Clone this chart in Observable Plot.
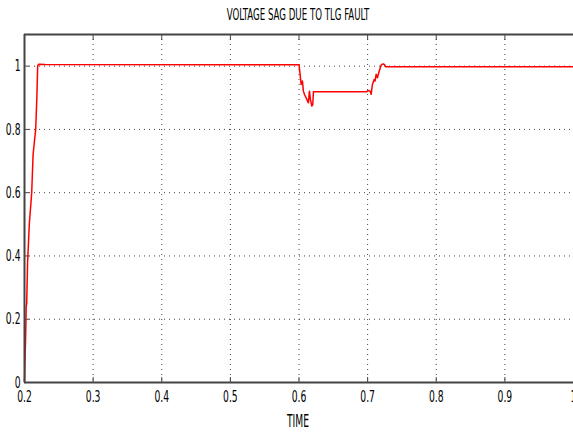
<!DOCTYPE html>
<html>
<head>
<meta charset="utf-8">
<script src="https://cdn.jsdelivr.net/npm/d3@7"></script>
<script src="https://cdn.jsdelivr.net/npm/@observablehq/plot@0.6"></script>
<style>
  html, body { margin: 0; padding: 0; background: #fff; overflow: hidden; }
  #wrap { position: relative; width: 573px; height: 432px; font-family: "DejaVu Sans Condensed", "DejaVu Sans", sans-serif; }
  .lbl { position: absolute; white-space: nowrap; color: #000; transform: translateX(-50%) scaleX(0.6); transform-origin: center; }
  #title { left: 298px; top: 5px; font-size: 16px; }
  #xlabel { left: 298px; top: 411px; font-size: 17px; }
  svg { position: absolute; left: 0; top: 0; }
</style>
</head>
<body>
<div id="wrap">
  <div id="title" class="lbl">VOLTAGE SAG DUE TO TLG FAULT</div>
  <div id="xlabel" class="lbl">TIME</div>
</div>
<script>
const titleText = "VOLTAGE SAG DUE TO TLG FAULT";
const xLabel = "TIME";
const xTicks = [0.2, 0.3, 0.4, 0.5, 0.6, 0.7, 0.8, 0.9, 1];
const yTicks = [0, 0.2, 0.4, 0.6, 0.8, 1];
const time = [
  0.2, 0.2007, 0.2015, 0.2025, 0.2032, 0.2045, 0.207, 0.2105, 0.2125, 0.2139, 0.2163, 0.2180, 0.2192, 0.2204, 0.23,
  0.6001, 0.6016, 0.6031, 0.605, 0.6064, 0.6079, 0.6114, 0.6137, 0.6152, 0.6166, 0.6187, 0.6201, 0.621,
  0.6988, 0.7003, 0.7036, 0.7051, 0.707, 0.7095, 0.7109, 0.7124, 0.7143, 0.7168, 0.7197, 0.7222, 0.7245, 0.7265, 1.0
];
const voltage = [
  0, 0.07, 0.13, 0.24, 0.25, 0.38, 0.5, 0.6, 0.72, 0.75, 0.8, 0.9, 1.0, 1.006, 1.005,
  1.004, 0.974, 0.942, 0.953, 0.921, 0.911, 0.895, 0.884, 0.921, 0.895, 0.874, 0.879, 0.919,
  0.919, 0.923, 0.921, 0.911, 0.942, 0.958, 0.953, 0.974, 0.963, 0.984, 1.003, 1.007, 1.005, 0.998, 0.998
];
const data = time.map((t, i) => ({t, v: voltage[i]}));

const chart = Plot.plot({
  width: 573,
  height: 432,
  marginLeft: 24,
  marginRight: 0,
  marginTop: 34,
  marginBottom: 50,
  style: {fontFamily: '"DejaVu Sans Condensed", "DejaVu Sans", sans-serif', fontSize: "16px", color: "#000", background: "transparent", overflow: "visible"},
  x: {domain: [0.2, 1], ticks: xTicks},
  y: {domain: [0, 1.1], ticks: yTicks},
  marks: [
    Plot.ruleX(xTicks.filter(d => d > 0.2 && d < 1), {stroke: "#000", strokeOpacity: 0.75, strokeDasharray: "1,4", strokeWidth: 1}),
    Plot.ruleY(yTicks.filter(d => d > 0), {stroke: "#000", strokeOpacity: 0.75, strokeDasharray: "1,4", strokeWidth: 1}),
    Plot.axisX({ticks: xTicks, tickSize: 0, tickPadding: 8, tickFormat: d => String(d), fontSize: 16, label: null}),
    Plot.axisX({ticks: xTicks, tickSize: -5, text: null, stroke: "#444", label: null}),
    Plot.axisX({ticks: xTicks, anchor: "top", tickSize: -5, text: null, stroke: "#444", label: null}),
    Plot.axisY({ticks: yTicks, tickSize: 0, tickPadding: 4, tickFormat: d => String(d), fontSize: 16, label: null}),
    Plot.axisY({ticks: yTicks, tickSize: -5, text: null, stroke: "#444", label: null}),
    Plot.line(data, {x: "t", y: "v", stroke: "#ff0000", strokeWidth: 1.5}),
    Plot.ruleY([0, 1.1], {stroke: "#444", strokeWidth: 2}),
    Plot.ruleX([0.2], {stroke: "#444", strokeWidth: 2})
  ]
});
document.getElementById("wrap").appendChild(chart);
chart.querySelectorAll("g[aria-label='x-axis tick label'] text, g[aria-label='y-axis tick label'] text").forEach(t => {
  const tr = t.getAttribute("transform") || "";
  t.setAttribute("transform", tr + " scale(0.64,1)");
});
</script>
</body>
</html>
